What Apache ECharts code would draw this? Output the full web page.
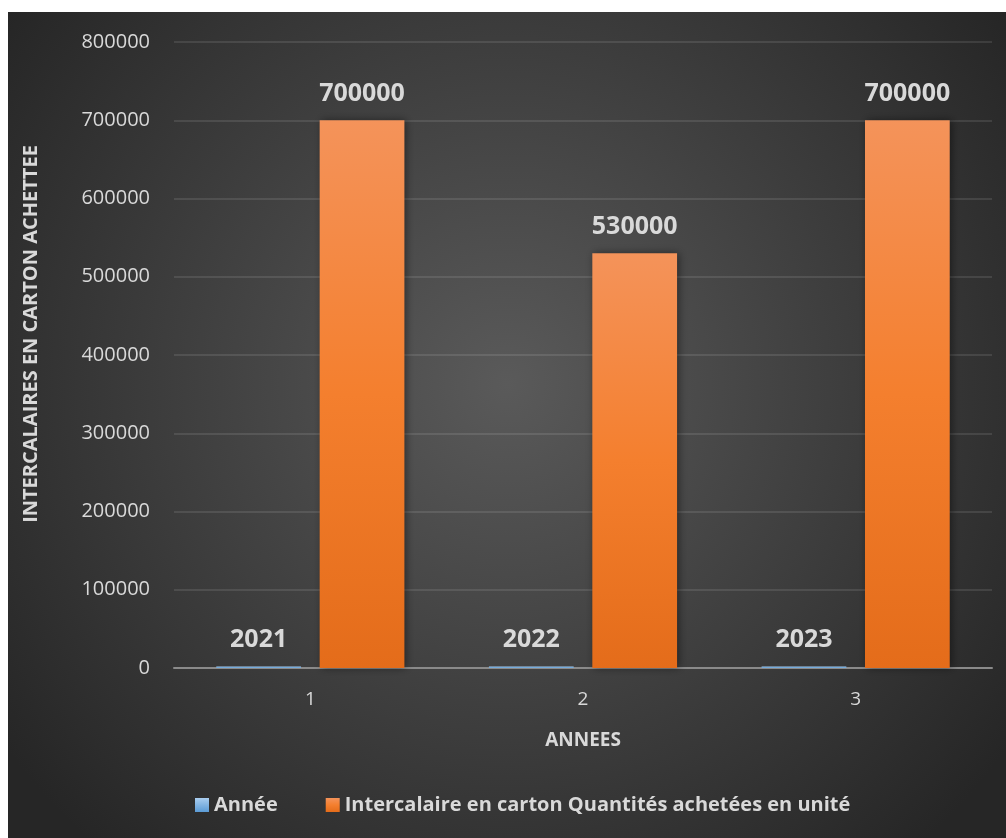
<!DOCTYPE html>
<html lang="fr" style="height: 100%">
<head>
<meta charset="utf-8">
<title>Intercalaires en carton</title>
</head>
<body style="height: 100%; margin: 0; background: #ffffff">
<div id="container" style="position: absolute; left: 8px; top: 12px; width: 998px; height: 826px"></div>

<script type="text/javascript" src="https://cdn.jsdelivr.net/npm/echarts/dist/echarts.min.js"></script>

<script type="text/javascript">

var categories = ['1', '2', '3'];
var anneeValues = [2021, 2022, 2023];
var quantiteValues = [700000, 530000, 700000];
var seriesNames = ['Année', 'Intercalaire en carton Quantités achetées en unité'];

var dom = document.getElementById('container');
var myChart = echarts.init(dom, null, { width: 998, height: 826 });

var font = '"Open Sans", sans-serif';
var textColor = '#d9d9d9';

var option = {
    backgroundColor: {
        type: 'radial', x: 0.5, y: 0.45, r: 0.75,
        colorStops: [
            { offset: 0, color: '#5a5a5a' },
            { offset: 1, color: '#262626' }
        ]
    },
    textStyle: { fontFamily: font },
    animation: false,
    grid: { left: 166, right: 14, top: 30, bottom: 170 },
    legend: {
        bottom: 18,
        left: 182,
        itemWidth: 14,
        itemHeight: 14,
        itemGap: 48,
        itemTextGap: 3,
        icon: 'rect',
        textStyle: { color: textColor, fontSize: 20, fontWeight: 'bold', fontFamily: font },
        data: seriesNames
    },
    xAxis: {
        type: 'category',
        data: categories,
        name: 'ANNEES',
        nameLocation: 'middle',
        nameGap: 63,
        nameTextStyle: { color: textColor, fontSize: 19, fontWeight: 'bold' },
        axisLine: { lineStyle: { color: '#8a8a8a', width: 2 } },
        axisTick: { show: false },
        axisLabel: { color: textColor, fontSize: 19, margin: 22 }
    },
    yAxis: {
        type: 'value',
        min: 0,
        max: 800000,
        interval: 100000,
        name: 'INTERCALAIRES EN CARTON ACHETTEE',
        nameLocation: 'middle',
        nameGap: 133,
        nameTextStyle: { color: textColor, fontSize: 20, fontWeight: 'bold', padding: [0, 0, 0, 42] },
        axisLine: { show: false },
        axisTick: { show: false },
        axisLabel: { color: textColor, fontSize: 20, margin: 24, formatter: function (v) { return String(v); } },
        splitLine: { lineStyle: { color: 'rgba(255,255,255,0.1)', width: 2 } }
    },
    series: [
        {
            name: seriesNames[0],
            type: 'bar',
            data: anneeValues,
            barGap: '22%',
            barCategoryGap: '31%',
            itemStyle: {
                color: {
                    type: 'linear', x: 0, y: 0, x2: 0, y2: 1,
                    colorStops: [
                        { offset: 0, color: '#a9cdef' },
                        { offset: 1, color: '#5b9bd5' }
                    ]
                }
            },
            label: {
                show: true,
                position: 'top',
                distance: 14,
                color: textColor,
                fontSize: 25,
                fontWeight: 'bold'
            }
        },
        {
            name: seriesNames[1],
            type: 'bar',
            data: quantiteValues,
            itemStyle: {
                color: {
                    type: 'linear', x: 0, y: 0, x2: 0, y2: 1,
                    colorStops: [
                        { offset: 0, color: '#f4935a' },
                        { offset: 0.5, color: '#f47f2e' },
                        { offset: 1, color: '#e46c1a' }
                    ]
                },
                shadowColor: 'rgba(0,0,0,0.45)',
                shadowBlur: 8,
                shadowOffsetX: 2
            },
            label: {
                show: true,
                position: 'top',
                distance: 14,
                color: textColor,
                fontSize: 25,
                fontWeight: 'bold'
            }
        }
    ]
};

if (option && typeof option === 'object') {
    myChart.setOption(option);
}

window.addEventListener('resize', myChart.resize);
</script>
</body>
</html>
